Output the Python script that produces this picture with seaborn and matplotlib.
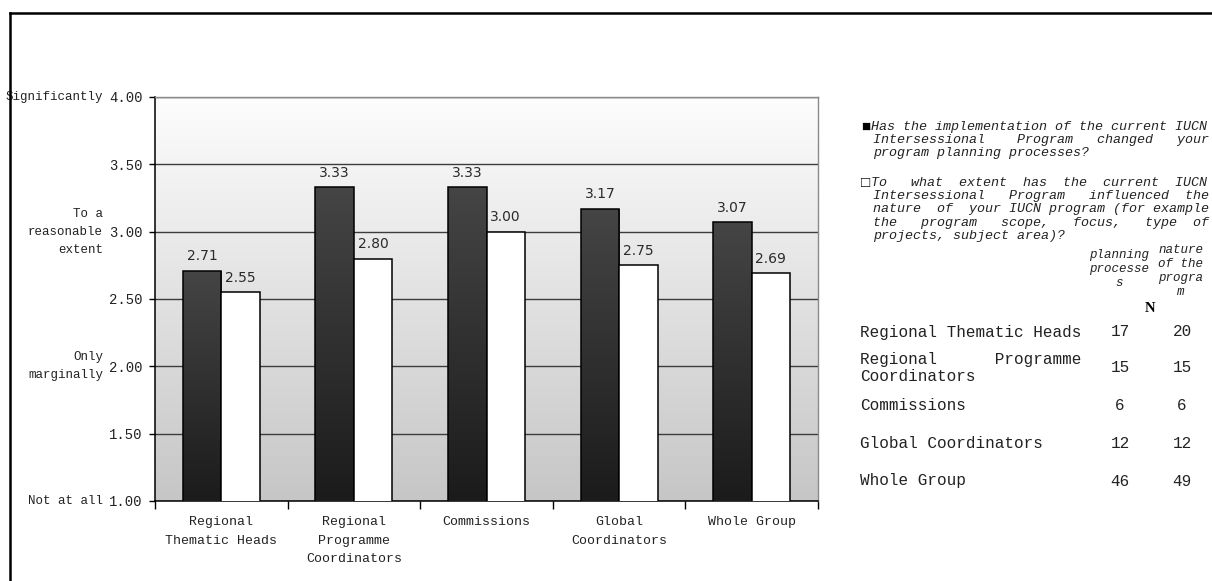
import textwrap

import numpy as np
import pandas as pd
import matplotlib
matplotlib.use("Agg")
import matplotlib.pyplot as plt
import matplotlib.transforms as mtransforms
from matplotlib.colors import LinearSegmentedColormap
from matplotlib.lines import Line2D
import seaborn as sns

# ---------------------------------------------------------------- data
groups = ["Regional\nThematic Heads", "Regional\nProgramme\nCoordinators",
          "Commissions", "Global\nCoordinators", "Whole Group"]
series = ["planning processes", "nature of the program"]
planning_scores = [2.71, 3.33, 3.33, 3.17, 3.07]
nature_scores = [2.55, 2.80, 3.00, 2.75, 2.69]

scale_ticks = [1.0, 1.5, 2.0, 2.5, 3.0, 3.5, 4.0]
scale_words = {4.0: "Significantly", 3.0: "To a\nreasonable\nextent",
               2.0: "Only\nmarginally", 1.0: "Not at all"}

question_planning = ("Has the implementation of the current IUCN Intersessional "
                     "Program changed your program planning processes?")
question_nature = ("To what extent has the current IUCN Intersessional Program "
                   "influenced the nature of your IUCN program (for example the "
                   "program scope, focus, type of projects, subject area)?")

table_rows = ["Regional Thematic Heads", "Regional Programme Coordinators",
              "Commissions", "Global Coordinators", "Whole Group"]
n_planning = [17, 15, 6, 12, 46]
n_nature = [20, 15, 6, 12, 49]
header_planning = "planning\nprocesse\ns"
header_nature = "nature\nof the\nprogra\nm"

# ---------------------------------------------------------------- helpers
W, H = 1212, 581
MONO = ["Liberation Mono", "DejaVu Sans Mono"]


def fx(px):
    return px / W


def fy(py):
    return 1 - py / H


def justify(line, width):
    words = line.split()
    if len(words) < 2:
        return line
    gaps = len(words) - 1
    extra = width - sum(len(w) for w in words)
    base, rem = divmod(extra, gaps)
    out = words[0]
    for i, w in enumerate(words[1:]):
        out += " " * (base + (1 if i < rem else 0)) + w
    return out


def justified_lines(text, width):
    lines = textwrap.wrap(text, width)
    return [justify(l, width) for l in lines[:-1]] + lines[-1:]


# ---------------------------------------------------------------- figure
fig = plt.figure(figsize=(W / 100, H / 100), dpi=100)
fig.patch.set_facecolor("white")
ax = fig.add_axes([fx(155), fy(501), fx(818) - fx(155), fy(97) - fy(501)])

df = pd.DataFrame({
    "group": groups * 2,
    "question": [series[0]] * len(groups) + [series[1]] * len(groups),
    "score": planning_scores + nature_scores,
})

sns.barplot(data=df, x="group", y="score", hue="question", order=groups,
            hue_order=series, palette=["#333333", "white"], width=0.58,
            edgecolor="black", linewidth=1.1, legend=False, ax=ax, zorder=3)

ymin, ymax = 1.0, 4.0

# plot-area background: light at the top, grey at the bottom
bg = LinearSegmentedColormap.from_list("bg", ["#c6c6c6", "#fdfdfd"])
ax.imshow(np.linspace(0, 1, 256).reshape(-1, 1), cmap=bg, origin="lower",
          extent=(-0.5, 4.5, ymin, ymax), aspect="auto", zorder=0)

# dark bars get a vertical shade
shade = LinearSegmentedColormap.from_list("shade", ["#1b1b1b", "#454545"])
for patch in ax.containers[0]:
    x0, w = patch.get_x(), patch.get_width()
    top = patch.get_y() + patch.get_height()
    im = ax.imshow(np.linspace(0, 1, 256).reshape(-1, 1), cmap=shade,
                   origin="lower", extent=(x0, x0 + w, ymin, top),
                   aspect="auto", zorder=2.9)
    im.set_clip_path(patch)
    patch.set_facecolor("none")

for cont in ax.containers:
    ax.bar_label(cont, fmt="%.2f", padding=5.5, fontsize=10,
                 family="DejaVu Sans", color="#2a2a2a")

ax.set_xlim(-0.5, 4.5)
ax.set_ylim(ymin, ymax)
ax.set_xlabel("")
ax.set_ylabel("")

# axes, ticks, grid
ax.set_axisbelow(True)
ax.yaxis.grid(True, color="#3c3c3c", linewidth=1.0, zorder=1)
ax.xaxis.grid(False)
ax.set_yticks(scale_ticks)
ax.set_yticklabels([f"{v:.2f}" for v in scale_ticks], family=MONO,
                   fontsize=10)
ax.tick_params(axis="y", length=4, width=1, pad=5, colors="black",
               labelcolor="#222222")

ax.set_xticks(np.arange(-0.5, len(groups), 1.0))
ax.set_xticklabels([])
ax.set_xticks(np.arange(len(groups)), minor=True)
ax.set_xticklabels(groups, minor=True, family=MONO, fontsize=9.5,
                   color="#222222")
for t in ax.get_xticklabels(minor=True):
    t.set_linespacing(1.7)
ax.tick_params(axis="x", which="major", length=6, width=1, direction="out")
ax.tick_params(axis="x", which="minor", length=0, pad=11)

for side in ("left", "bottom"):
    ax.spines[side].set_color("black")
    ax.spines[side].set_linewidth(1.1)
for side in ("right", "top"):
    ax.spines[side].set_color("#8a8a8a")
    ax.spines[side].set_linewidth(1.0)

# verbal anchors of the rating scale
blend = mtransforms.blended_transform_factory(ax.transAxes, ax.transData)
for val, word in scale_words.items():
    ax.annotate(word, xy=(0, val), xycoords=blend, xytext=(-37.5, 0),
                textcoords="offset points", ha="right", va="center",
                family=MONO, fontsize=9, color="#222222", linespacing=1.65)

# ---------------------------------------------------------------- legend text
leg_size = 9.6
fig.text(fx(861), fy(127), "\u25a0", fontsize=11, family=MONO, va="center",
         ha="left", color="black")
for i, line in enumerate(justified_lines(question_planning, 42)):
    x = 871 if i == 0 else 873
    fig.text(fx(x), fy(127 + 13 * i), line, fontsize=leg_size, family=MONO,
             style="italic", va="center", ha="left", color="#222222")

fig.text(fx(861), fy(183), "\u25a1", fontsize=11, family=MONO, va="center",
         ha="left", color="black")
for i, line in enumerate(justified_lines(question_nature, 42)):
    x = 871 if i == 0 else 873
    fig.text(fx(x), fy(183 + 13.2 * i), line, fontsize=leg_size, family=MONO,
             style="italic", va="center", ha="left", color="#222222")

# ---------------------------------------------------------------- N table
for i, line in enumerate(header_planning.split("\n")):
    fig.text(fx(1119), fy(255 + 14 * i), line, fontsize=9, family=MONO,
             style="italic", ha="center", va="center", color="#222222")
for i, line in enumerate(header_nature.split("\n")):
    fig.text(fx(1181), fy(250 + 14 * i), line, fontsize=9, family=MONO,
             style="italic", ha="center", va="center", color="#222222")
fig.text(fx(1150), fy(308), "N", fontsize=10.5, family="Liberation Serif",
         weight="bold", ha="center", va="center", color="black")

row_y = [332, 368, 406, 443, 481]
for name, a, b, y in zip(table_rows, n_planning, n_nature, row_y):
    lines = justified_lines(name, 23)
    offs = (np.arange(len(lines)) - (len(lines) - 1) / 2) * 17
    for line, dy in zip(lines, offs):
        fig.text(fx(860), fy(y + dy), line, fontsize=11.5, family=MONO,
                 ha="left", va="center", color="#222222")
    fig.text(fx(1120), fy(y), str(a), fontsize=11.5, family=MONO,
             ha="center", va="center", color="#222222")
    fig.text(fx(1182), fy(y), str(b), fontsize=11.5, family=MONO,
             ha="center", va="center", color="#222222")

# ---------------------------------------------------------------- frame
fig.add_artist(Line2D([fx(9.5), fx(9.5)], [0, fy(13)], transform=fig.transFigure,
                      color="black", linewidth=1.8))
fig.add_artist(Line2D([fx(9.5), 1], [fy(13), fy(13)], transform=fig.transFigure,
                      color="black", linewidth=1.8))

fig.savefig("out.png", dpi=100)
